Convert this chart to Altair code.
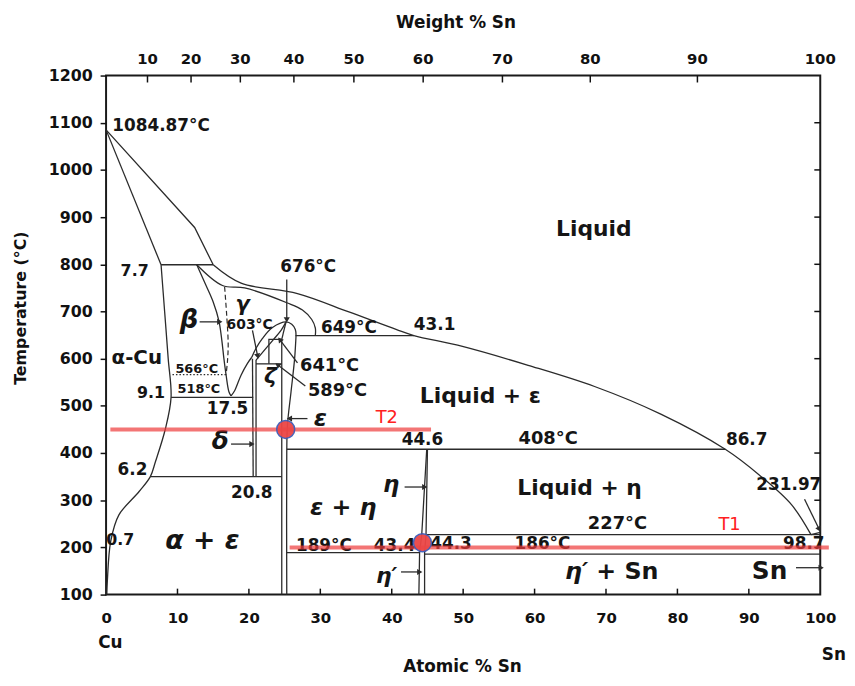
import math
import altair as alt
import pandas as pd

FONT = "DejaVu Sans"
INK = "#2b2b2b"
W, H = 721, 524

# ---------------- axes ----------------
AT_TICKS = [0, 10, 20, 30, 40, 50, 60, 70, 80, 90, 100]
T_TICKS = [100, 200, 300, 400, 500, 600, 700, 800, 900, 1000, 1100, 1200]
WT_LABELS = ["10", "20", "30", "40", "50", "60", "70", "80", "90", "100"]
WT_POS = [5.8, 11.9, 18.8, 26.3, 34.7, 44.4, 55.5, 67.8, 82.8, 100.0]

# ---------------- phase boundaries (atomic % Sn, deg C) ----------------
# straight segments
LIQ_A_X = [0, 12.4, 15.0]
LIQ_A_T = [1084.87, 878, 799]
LIQ_C_X = [98.7, 100]
LIQ_C_T = [227, 231.97]
SOL_X = [0, 7.7]
SOL_T = [1084.87, 799]
PERI_X = [7.7, 15.0]
PERI_T = [799, 799]
L649_X = [26.5, 43.1]
L649_T = [649, 649]
APEX_X = [25.2, 24.6]
APEX_T = [678, 641]
ZETA_X = [22.8, 22.8, 24.6]
ZETA_T = [589, 641, 641]
L589_X = [21.0, 24.6]
L589_T = [589, 589]
DELTA_L_X = [20.5, 20.6]
DELTA_L_T = [600, 350]
DELTA_R_X = [21.0, 21.0]
DELTA_R_T = [597, 350]
EPS_L_X = [24.6, 24.6]
EPS_L_T = [641, 100]
L518_X = [9.1, 20.6]
L518_T = [518, 518]
L350_X = [6.2, 24.6]
L350_T = [350, 350]
L408_X = [25.3, 86.7]
L408_T = [408, 408]
L227_X = [44.8, 100]
L227_T = [227, 227]
L189_X = [25.3, 43.9]
L189_T = [189, 189]
L186_X = [44.6, 100]
L186_T = [186, 186]
ETA_L_X = [44.9, 44.2, 43.9, 43.8]
ETA_L_T = [408, 227, 189, 100]
ETA_R_X = [45.0, 44.8, 44.6, 44.6]
ETA_R_T = [408, 227, 189, 100]

# curved boundaries
LIQ_B_X = [15.0, 18.9, 26.8, 34.0, 40.6, 43.1, 49.9, 59.1, 68.4, 77.6, 86.7, 91.5, 96.0, 98.7]
LIQ_B_T = [799, 760, 738, 699, 662, 649, 626, 586, 541, 483, 408, 353, 290, 227]
ASOLV_X = [7.7, 8.2, 8.7, 9.1, 8.3, 6.9, 6.2, 4.6, 1.8, 0.65, 0.18, 0.1]
ASOLV_T = [799, 700, 600, 518, 451, 381, 350, 318, 269, 213, 129, 100]
BETA_L_X = [12.7, 14.0, 15.0, 15.8, 16.2, 16.5, 16.8, 17.2, 17.5]
BETA_L_T = [799, 755, 720, 680, 640, 600, 566, 530, 521]
V_R_X = [17.5, 18.0, 18.9, 19.8, 20.4]
V_R_T = [521, 532, 565, 590, 603]
GSOL_X = [12.7, 16.3, 19.4, 25.4, 27.5, 28.8, 29.3, 29.3]
GSOL_T = [799, 755, 750, 718, 703, 683, 665, 649]
DOME_X = [20.4, 21.0, 21.9, 23.3, 25.2, 26.0, 26.5, 26.6]
DOME_T = [603, 622, 643, 666, 678, 673, 662, 649]
DOME_IN_X = [21.0, 22.0, 23.4, 24.5, 25.2]
DOME_IN_T = [597, 615, 640, 660, 678]
EPS_R_X = [26.6, 26.4, 25.9, 25.4, 25.3, 25.3]
EPS_R_T = [649, 600, 530, 460, 400, 100]

DASH_X = [16.6, 16.9, 17.1, 17.0, 16.8]
DASH_T = [752, 690, 630, 595, 566]
DOT_X = [9.3, 16.8]
DOT_T = [566, 566]

# red isotherms and points
T2_X = [0.6, 45.5]
T2_T = [450, 450]
T1_X = [25.7, 101.2]
T1_T = [200, 200]
PT_X = [25.15, 44.3]
PT_T = [450, 210]

# arrows: start -> tip
ARR_X1 = [13.1, 25.3, 20.5, 26.8, 27.9, 28.2, 17.5, 41.8, 41.3, 97.8, 96.6]
ARR_T1 = [678, 768, 660, 591, 542, 473, 419, 328, 148, 302, 157]
ARR_X2 = [15.8, 25.3, 21.2, 24.4, 24.1, 25.8, 20.3, 44.5, 43.8, 99.8, 100.0]
ARR_T2 = [678, 684, 607, 639, 586, 473, 419, 328, 148, 240, 157]

# labels
UP_TEXT = ["1084.87°C", "Liquid", "7.7", "676°C", "603°C", "649°C", "43.1", "α-Cu",
           "566°C", "518°C", "641°C", "589°C", "9.1", "17.5", "Liquid + ε", "44.6",
           "408°C", "86.7", "6.2", "Liquid + η", "231.97", "20.8", "227°C", "0.7",
           "189°C", "43.4", "44.3", "186°C", "98.7", "+ Sn", "Sn"]
UP_X = [7.7, 68.3, 4.0, 28.3, 20.1, 34.0, 46.0, 4.3,
        12.7, 13.0, 31.3, 32.4, 6.3, 17.0, 52.4, 44.3,
        61.9, 89.7, 3.7, 66.3, 95.6, 20.4, 71.6, 2.0,
        30.5, 40.4, 48.3, 61.1, 97.7, 73.0, 92.9]
UP_T = [1094, 874, 786, 794, 671, 665, 671, 602,
        577, 535, 584, 531, 528, 493, 521, 428,
        430, 428, 363, 325, 332, 316, 250, 216,
        203, 203, 207, 207, 207, 148, 149]
UP_SIZE = [17, 22, 16, 17, 14, 17, 17, 20,
           13, 13, 18, 18, 16, 17, 22, 17,
           18, 17, 17, 22, 17, 17, 18, 16,
           17, 17, 17, 17, 17, 24, 25]

IT_TEXT = ["α + ε", "ε + η", "β", "γ", "ζ", "ε", "δ", "η", "η′", "η′"]
IT_X = [13.5, 33.2, 11.6, 19.1, 23.0, 30.0, 16.0, 39.9, 39.3, 65.9]
IT_T = [213, 283, 682, 713, 563, 473, 426, 332, 139, 148]
IT_SIZE = [27, 24, 26, 21, 22, 24, 25, 23, 22, 24]

RED_TEXT = ["T2", "T1"]
RED_X = [39.3, 87.3]
RED_T = [475, 248]

OUT_TEXT = ["Atomic % Sn", "Cu", "Sn", "Weight % Sn"]
OUT_X = [49.9, 0.6, 101.9, 49.0]
OUT_T = [-53, -2, -28, 1312]

# ---------------- assemble tables ----------------
STRAIGHT = [(LIQ_A_X, LIQ_A_T), (LIQ_C_X, LIQ_C_T), (SOL_X, SOL_T), (PERI_X, PERI_T),
            (L649_X, L649_T), (APEX_X, APEX_T), (ZETA_X, ZETA_T), (L589_X, L589_T),
            (DELTA_L_X, DELTA_L_T), (DELTA_R_X, DELTA_R_T), (EPS_L_X, EPS_L_T),
            (L518_X, L518_T), (L350_X, L350_T), (L408_X, L408_T), (L227_X, L227_T),
            (L189_X, L189_T), (L186_X, L186_T), (ETA_L_X, ETA_L_T), (ETA_R_X, ETA_R_T)]
CURVED = [(LIQ_B_X, LIQ_B_T), (ASOLV_X, ASOLV_T), (BETA_L_X, BETA_L_T), (V_R_X, V_R_T),
          (GSOL_X, GSOL_T), (DOME_X, DOME_T), (DOME_IN_X, DOME_IN_T), (EPS_R_X, EPS_R_T)]


def poly_table(polys):
    rows = []
    for i, (xs, ts) in enumerate(polys):
        for j, (xv, tv) in enumerate(zip(xs, ts)):
            rows.append({"id": i, "seq": j, "x": xv, "T": tv})
    return pd.DataFrame(rows)


straight_df = poly_table(STRAIGHT)
curved_df = poly_table(CURVED)
dash_df = poly_table([(DASH_X, DASH_T)])
dot_df = poly_table([(DOT_X, DOT_T)])
red_df = poly_table([(T2_X, T2_T), (T1_X, T1_T)])
pt_df = pd.DataFrame({"x": PT_X, "T": PT_T})

arr_df = pd.DataFrame({"x": ARR_X1, "T": ARR_T1, "x2": ARR_X2, "T2": ARR_T2})
angs = []
for a, b, c, d in zip(ARR_X1, ARR_T1, ARR_X2, ARR_T2):
    dxp = (c - a) * W / 100.0
    dyp = -(d - b) * H / 1100.0
    angs.append(math.degrees(math.atan2(dxp, -dyp)) % 360)
head_df = pd.DataFrame({"x": ARR_X2, "T": ARR_T2, "ang": angs})

up_df = pd.DataFrame({"x": UP_X, "T": UP_T, "text": UP_TEXT, "size": UP_SIZE})
it_df = pd.DataFrame({"x": IT_X, "T": IT_T, "text": IT_TEXT, "size": IT_SIZE})
red_txt_df = pd.DataFrame({"x": RED_X, "T": RED_T, "text": RED_TEXT})
out_df = pd.DataFrame({"x": OUT_X, "T": OUT_T, "text": OUT_TEXT})
top_df = pd.DataFrame({"x": WT_POS, "T": [1234] * len(WT_POS), "text": WT_LABELS})
ylab_df = pd.DataFrame({"x": [-11.9], "T": [707], "text": ["Temperature (°C)"]})

btick_df = pd.DataFrame({"x": AT_TICKS[1:-1]})
ttick_df = pd.DataFrame({"x": WT_POS[:-1]})
rtick_df = pd.DataFrame({"T": T_TICKS[1:-1]})

# ---------------- encodings ----------------
XS = alt.Scale(domain=[0, 100], nice=False, zero=False)
YS = alt.Scale(domain=[100, 1200], nice=False, zero=False)
XAX = alt.Axis(values=AT_TICKS, ticks=False, domain=False, grid=False, labelFont=FONT,
               labelFontSize=15, labelFontWeight="bold", labelColor="#111",
               labelPadding=16, labelFlush=False, labelOverlap=False, format="d")
YAX = alt.Axis(values=T_TICKS, tickSize=6, tickWidth=1.5, tickColor="#111", domain=False,
               grid=False, labelFont=FONT, labelFontSize=16, labelFontWeight="bold",
               labelColor="#111", labelPadding=8, labelFlush=False, labelOverlap=False,
               format="d")


def X(field="x"):
    return alt.X(f"{field}:Q", scale=XS, axis=XAX, title=None)


def Y(field="T"):
    return alt.Y(f"{field}:Q", scale=YS, axis=YAX, title=None)


straight = alt.Chart(straight_df).mark_line(color=INK, strokeWidth=1.3).encode(
    x=X(), y=Y(), detail="id:N", order="seq:Q")
curved = alt.Chart(curved_df).mark_line(color=INK, strokeWidth=1.3,
                                        interpolate="catmull-rom").encode(
    x=X(), y=Y(), detail="id:N", order="seq:Q")
dashed = alt.Chart(dash_df).mark_line(color=INK, strokeWidth=1.2, strokeDash=[5, 3],
                                      interpolate="catmull-rom").encode(
    x=X(), y=Y(), detail="id:N", order="seq:Q")
dotted = alt.Chart(dot_df).mark_line(color=INK, strokeWidth=1.2, strokeDash=[1.5, 2]).encode(
    x=X(), y=Y(), detail="id:N", order="seq:Q")

arrows = alt.Chart(arr_df).mark_rule(color=INK, strokeWidth=1.3).encode(
    x=X(), y=Y(), x2="x2:Q", y2="T2:Q")
heads = alt.Chart(head_df).mark_point(shape="triangle", filled=True, color=INK, size=38,
                                      opacity=1).encode(
    x=X(), y=Y(), angle=alt.Angle("ang:Q", scale=None))

btick = alt.Chart(btick_df).mark_rule(color="#111", strokeWidth=1.5).encode(
    x=X(), y=alt.value(H), y2=alt.value(H - 6))
ttick = alt.Chart(ttick_df).mark_rule(color="#111", strokeWidth=1.5).encode(
    x=X(), y=alt.value(0), y2=alt.value(7))
rtick = alt.Chart(rtick_df).mark_rule(color="#111", strokeWidth=1.5).encode(
    y=Y(), x=alt.value(W), x2=alt.value(W - 6))

up_txt = alt.Chart(up_df).mark_text(font=FONT, fontWeight="bold", color="#151515",
                                    align="center", baseline="middle").encode(
    x=X(), y=Y(), text="text:N", size=alt.Size("size:Q", scale=None, legend=None))
it_txt = alt.Chart(it_df).mark_text(font=FONT, fontWeight="bold", fontStyle="italic",
                                    color="#151515", align="center", baseline="middle").encode(
    x=X(), y=Y(), text="text:N", size=alt.Size("size:Q", scale=None, legend=None))

red_lines = alt.Chart(red_df).mark_line(color="#ee3b3b", strokeWidth=4, opacity=0.7).encode(
    x=X(), y=Y(), detail="id:N", order="seq:Q")
pts = alt.Chart(pt_df).mark_circle(size=330, color="#ec4646", opacity=0.95,
                                   stroke="#3e5cb8", strokeWidth=1.5).encode(x=X(), y=Y())
red_txt = alt.Chart(red_txt_df).mark_text(font=FONT, fontSize=18, color="#ff2020",
                                          align="center", baseline="middle").encode(
    x=X(), y=Y(), text="text:N")

out_txt = alt.Chart(out_df).mark_text(font=FONT, fontSize=17, fontWeight="bold", color="#111",
                                      align="center", baseline="middle").encode(
    x=X(), y=Y(), text="text:N")
top_txt = alt.Chart(top_df).mark_text(font=FONT, fontSize=15, fontWeight="bold", color="#111",
                                      align="center", baseline="middle").encode(
    x=X(), y=Y(), text="text:N")
ylab = alt.Chart(ylab_df).mark_text(font=FONT, fontSize=16, fontWeight="bold", color="#111",
                                    align="center", baseline="middle", angle=270).encode(
    x=X(), y=Y(), text="text:N")

chart = alt.layer(
    straight, curved, dashed, dotted, arrows, heads, btick, ttick, rtick,
    up_txt, it_txt, red_lines, pts, red_txt, out_txt, top_txt, ylab
).properties(
    width=W, height=H,
    autosize=alt.AutoSizeParams(type="none"),
    padding={"left": 99, "top": 65, "right": 27, "bottom": 81},
).configure_view(stroke="#1a1a1a", strokeWidth=2)

chart.save("out.html", embed_options={"renderer": "svg", "actions": False})
